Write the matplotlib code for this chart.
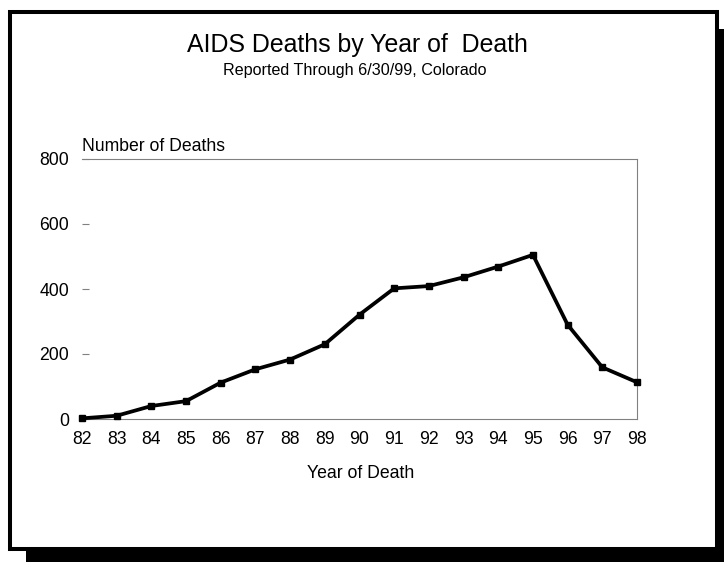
import matplotlib.pyplot as plt
from matplotlib.patches import Rectangle

plt.rcParams['font.family'] = ['Liberation Sans', 'DejaVu Sans']

years = [82, 83, 84, 85, 86, 87, 88, 89, 90, 91, 92, 93, 94, 95, 96, 97, 98]
deaths = [2, 10, 40, 55, 112, 153, 183, 230, 321, 402, 409, 436, 469, 505, 290, 159, 113]
y_ticks = [0, 200, 400, 600, 800]

W, H = 724, 562
fig = plt.figure(figsize=(W / 100, H / 100), dpi=100)


def fx(px):
    return px / W


def fy(py):
    return 1 - py / H


# drop shadow and framed white panel
fig.patches.append(Rectangle((fx(26), fy(570)), fx(711), 541 / H, transform=fig.transFigure,
                             facecolor='black', edgecolor='none', zorder=0))
fig.patches.append(Rectangle((fx(10), fy(549)), fx(707), 537 / H, transform=fig.transFigure,
                             facecolor='white', edgecolor='black', linewidth=2.9, zorder=1))

ax = fig.add_axes([fx(82), fy(419), fx(637 - 82), (419 - 159) / H])
ax.set_zorder(3)
ax.set_facecolor('none')
ax.plot(years, deaths, color='black', linewidth=2.7, marker='s', markersize=5,
        clip_on=False, zorder=5)

ax.set_xlim(82, 98)
ax.set_ylim(0, 800)
ax.set_xticks(years)
ax.set_xticklabels([str(y) for y in years])
ax.set_yticks(y_ticks)

for side in ['top', 'right', 'bottom']:
    ax.spines[side].set_color('#808080')
    ax.spines[side].set_linewidth(0.8)
ax.spines['left'].set_visible(False)

ax.tick_params(axis='y', direction='in', length=5, width=0.8, color='#808080',
               labelsize=12.7, pad=9.4)
ax.tick_params(axis='x', length=0, labelsize=12.7, pad=8.5)

fig.text(fx(82), fy(150.5), 'Number of Deaths', fontsize=12.7, ha='left', va='baseline', zorder=3)
fig.text(fx(361), fy(478), 'Year of Death', fontsize=12.7, ha='center', va='baseline', zorder=3)

fig.text(fx(357), fy(52), 'AIDS Deaths by Year of  Death', fontsize=17.9,
         ha='center', va='baseline', zorder=3)
fig.text(fx(355), fy(75), 'Reported Through 6/30/99, Colorado', fontsize=11.6,
         ha='center', va='baseline', zorder=3)

fig.savefig('out.png', dpi=100)
